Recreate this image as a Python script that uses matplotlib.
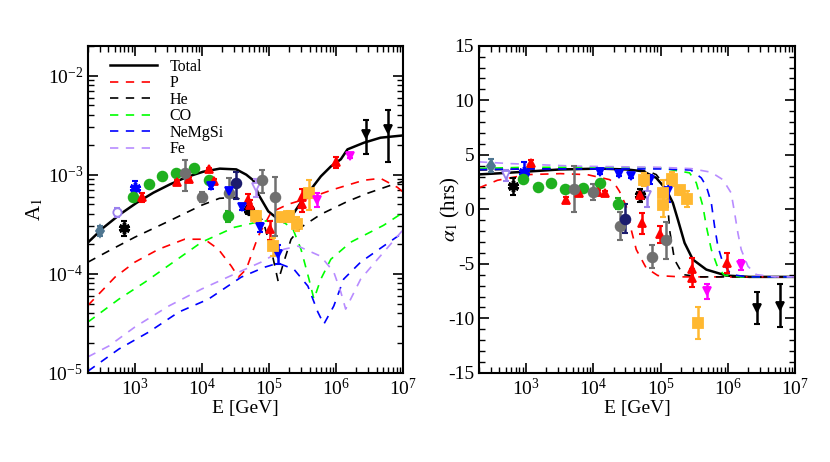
import matplotlib
matplotlib.use('Agg')
from matplotlib import pyplot as plt
from matplotlib.ticker import LogLocator, MultipleLocator, NullFormatter

plt.rcParams.update({
    'font.family': ['Liberation Serif', 'DejaVu Serif'],
    'mathtext.fontset': 'stix',
    'axes.unicode_minus': False,
    'font.size': 14,
})

# ---------------- model curves, amplitude A1 (left) ----------------
tot_E = [200, 340, 600, 1070, 1890, 3330, 5900, 1.04e4, 1.84e4, 3.24e4, 4.56e4,
         5.8e4, 6.9e4, 9.7e4, 1.36e5, 1.67e5, 2.12e5, 2.98e5, 4.19e5, 5.9e5,
         8.3e5, 1.17e6, 1.47e6, 2.58e6, 4.56e6, 1e7]
tot_A = [2.07e-4, 2.92e-4, 3.98e-4, 5.22e-4, 6.58e-4, 7.98e-4, 9.46e-4, 1.07e-3,
         1.15e-3, 1.13e-3, 1.0e-3, 8.77e-4, 6.34e-4, 4.27e-4, 3.55e-4, 3.31e-4,
         3.72e-4, 5.26e-4, 7.11e-4, 9.62e-4, 1.21e-3, 1.43e-3, 1.80e-3, 2.10e-3,
         2.36e-3, 2.49e-3]

p_E = [200, 506, 1000, 2270, 5510, 1.09e4, 1.75e4, 2.74e4, 3.48e4, 4.56e4, 6.87e4,
       1.07e5, 1.91e5, 4.19e5, 9.18e5, 2.55e6, 4.56e6, 8.15e6, 1e7]
p_A = [4.8e-5, 9.25e-5, 1.31e-4, 1.77e-4, 2.23e-4, 2.23e-4, 1.77e-4, 1.19e-4,
       9.25e-5, 1.11e-4, 2.39e-4, 4.17e-4, 5.02e-4, 5.9e-4, 7.11e-4, 8.77e-4,
       9.18e-4, 7.45e-4, 6.64e-4]

he_E = [200, 456, 1000, 3190, 9840, 1.82e4, 3.24e4, 5.41e4, 8.15e4, 1.07e5, 1.36e5,
        1.67e5, 2.12e5, 2.98e5, 5.89e5, 1.48e6, 2.93e6, 7.11e6, 1e7]
he_A = [1.31e-4, 1.77e-4, 2.34e-4, 3.39e-4, 4.91e-4, 5.77e-4, 5.9e-4, 4.91e-4,
        3.39e-4, 1.77e-4, 8.43e-5, 1.34e-4, 2.23e-4, 2.94e-4, 3.98e-4, 5.38e-4,
        6.49e-4, 7.98e-4, 8.57e-4]

co_E = [200, 579, 1410, 3920, 9840, 3.03e4, 7.6e4, 1.51e5, 2.27e5, 2.98e5, 3.92e5,
        4.65e5, 5.89e5, 8.3e5, 1.64e6, 5.06e6, 1e7]
co_A = [3.26e-5, 5.55e-5, 8.22e-5, 1.34e-4, 2.08e-4, 2.94e-4, 3.39e-4, 3.47e-4,
        2.81e-4, 1.77e-4, 8.83e-5, 5.55e-5, 8.83e-5, 1.40e-4, 2.08e-4, 3.08e-4,
        4.17e-4]

ne_E = [200, 579, 1610, 4490, 1.25e4, 3.85e4, 8.43e4, 1.36e5, 2.34e5, 3.78e5,
        5.32e5, 6.53e5, 9.18e5, 1.29e6, 2.31e6, 5.06e6, 1e7]
ne_A = [1.04e-5, 1.74e-5, 2.58e-5, 4.10e-5, 5.55e-5, 9.25e-5, 1.16e-4, 1.28e-4,
        1.11e-4, 7.5e-5, 4.1e-5, 3.1e-5, 4.72e-5, 8.83e-5, 1.31e-4, 1.90e-4,
        2.62e-4]

fe_E = [200, 412, 1000, 3190, 9840, 3.03e4, 7.6e4, 1.67e5, 2.69e5, 5.89e5, 9.18e5,
        1.17e6, 1.38e6, 1.64e6, 2.31e6, 4.12e6, 1e7]
fe_A = [1.45e-5, 1.87e-5, 2.90e-5, 4.72e-5, 7.0e-5, 9.91e-5, 1.31e-4, 1.77e-4,
        1.90e-4, 1.50e-4, 1.04e-4, 6.53e-5, 4.4e-5, 5.55e-5, 8.83e-5, 1.40e-4,
        2.8e-4]

# ---------------- model curves, phase alpha1 (right) ----------------
tot_E2 = [200, 400, 1000, 3160, 1.23e4, 3.16e4, 5.46e4, 8.63e4, 1.216e5, 1.524e5,
          1.807e5, 2.275e5, 3.02e5, 4.786e5, 9.48e5, 2.1e6, 1e7]
tot_ph = [3.2, 3.3, 3.45, 3.65, 3.73, 3.65, 3.49, 2.88, 1.81, 0.59, -0.94, -3.08,
          -4.61, -5.53, -6.08, -6.2, -6.2]

p_E2 = [200, 377, 1050, 3240, 8130, 1.75e4, 2.04e4, 2.45e4, 3.09e4, 3.66e4, 4.36e4,
        6.12e4, 9.12e4, 2e5, 1e7]
p_ph = [1.96, 2.66, 3.18, 3.27, 3.18, 2.72, 2.42, 1.65, 0.28, -1.86, -3.70, -5.38,
        -6.08, -6.2, -6.2]

he_E2 = [200, 1000, 1e4, 3e4, 5e4, 7.08e4, 8.63e4, 1.08e5, 1.285e5, 1.36e5, 1.61e5,
         2.15e5, 3.98e5, 1e7]
he_ph = [3.6, 3.7, 3.75, 3.7, 3.6, 3.4, 3.18, 2.42, 0.28, -1.86, -4.61, -5.99,
         -6.2, -6.2]

co_E2 = [200, 1000, 1e4, 1e5, 2.7e5, 3.4e5, 4.26e5, 4.79e5, 5.68e5, 7.11e5, 8.91e5,
         1.58e6, 1e7]
co_ph = [3.75, 3.85, 3.85, 3.8, 3.34, 2.42, 0.28, -1.56, -3.70, -5.38, -6.05,
         -6.2, -6.2]

ne_E2 = [200, 1000, 1e5, 2.82e5, 4.03e5, 4.79e5, 5.68e5, 6.35e5, 7.11e5, 8.43e5,
         1.12e6, 2e6, 1e7]
ne_ph = [3.64, 3.7, 3.7, 3.6, 2.88, 2.11, 0.59, -1.56, -3.39, -4.92, -5.99,
         -6.2, -6.2]

fe_E2 = [200, 589, 5900, 1e5, 2.86e5, 5.62e5, 8.43e5, 1.12e6, 1.26e6, 1.41e6,
         1.58e6, 1.99e6, 2.65e6, 5e6, 1e7]
fe_ph = [4.35, 4.19, 3.95, 3.85, 3.73, 3.4, 2.72, 1.5, -0.33, -2.17, -3.70, -5.23,
         -5.99, -6.2, -6.2]

# ---------------- measurements (grouped by marker) ----------------
# amplitude panel
slate_E, slate_A, slate_dA = [300], [2.7e-4], [0.3e-4]
lilac_E, lilac_A, lilac_dA = [540], [4.2e-4], [0.45e-4]
lilacv_E, lilacv_A, lilacv_dA = [6.4e4], [7.5e-4], [1.5e-4]
kstar_E, kstar_A, kstar_dA = [690, 5.0e4], [2.9e-4, 4.4e-4], [0.5e-4, 0.4e-4]
bstar_E, bstar_A, bstar_dA = [1000], [7.4e-4], [1.3e-4]
green_E = [930, 1610, 2510, 4050, 7480, 1.29e4, 2.47e4]
green_A = [6.0e-4, 8.0e-4, 9.8e-4, 1.05e-3, 1.16e-3, 8.8e-4, 3.8e-4]
green_dA = [0.3e-4, 0.3e-4, 0.3e-4, 0.4e-4, 0.4e-4, 0.5e-4, 0.5e-4]
red_E = [1270, 4170, 6300, 1.25e4, 1.53e4, 4.9e4, 5.1e4, 1.02e5, 3.1e5, 3.1e5, 1e6]
red_A = [5.9e-4, 8.4e-4, 9.0e-4, 1.13e-3, 8.6e-4, 5.5e-4, 4.9e-4, 2.8e-4, 5.9e-4,
         5.0e-4, 1.33e-3]
red_dA = [0.6e-4, 0.4e-4, 0.5e-4, 0.5e-4, 0.4e-4, 0.9e-4, 0.6e-4, 0.6e-4, 1.3e-4,
          0.8e-4, 1.6e-4]
gray_E = [5500, 1.0e4, 2.55e4, 7.95e4, 1.23e5]
gray_A = [1.05e-3, 6.0e-4, 6.6e-4, 8.9e-4, 5.9e-4]
gray_dA = [3.7e-4, 0.7e-4, 2.7e-4, 2.3e-4, 3.5e-4]
navy_E, navy_A, navy_dA = [3.16e4], [8.2e-4], [2.5e-4]
blue_E = [1.35e4, 2.5e4, 4.0e4, 7.4e4, 1.35e5]
blue_A = [7.6e-4, 6.8e-4, 4.7e-4, 2.95e-4, 1.6e-4]
blue_dA = [0.4e-4, 0.3e-4, 0.3e-4, 0.3e-4, 0.35e-4]
orange_E = [6.4e4, 1.15e5, 1.55e5, 2.0e5, 2.6e5, 3.9e5]
orange_A = [3.8e-4, 1.9e-4, 3.7e-4, 3.8e-4, 3.2e-4, 6.6e-4]
orange_dA = [0.5e-4, 0.4e-4, 0.4e-4, 0.5e-4, 0.5e-4, 2.2e-4]
mag_E, mag_A, mag_dA = [5.1e5, 1.58e6], [5.6e-4, 1.56e-3], [0.9e-4, 0.1e-3]
kv_E, kv_A, kv_dA = [2.8e6, 6.0e6], [2.6e-3, 2.9e-3], [1.0e-3, 1.55e-3]

# phase panel
slate_E2, slate_ph, slate_dph = [300], [4.0], [0.6]
lilac_E2, lilac_ph, lilac_dph = [510, 6.2e4], [3.1, 1.35], [0.5, 1.1]
kstar_E2, kstar_ph, kstar_dph = [650, 4.9e4], [2.1, 1.3], [0.8, 0.6]
bstar_E2, bstar_ph, bstar_dph = [920], [3.4], [0.9]
green_E2 = [890, 1520, 2350, 3800, 7100, 1.24e4, 2.35e4]
green_ph = [2.8, 2.05, 2.45, 1.87, 1.93, 2.45, 0.5]
green_dph = [0.2, 0.15, 0.15, 0.15, 0.15, 0.2, 0.5]
red_E2 = [1190, 3900, 6100, 1.16e4, 1.49e4, 4.9e4, 5.25e4, 9.8e4, 2.9e5, 2.9e5, 9.8e5]
red_ph = [4.2, 0.89, 1.5, 1.56, 1.5, 1.3, -1.3, -2.3, -5.47, -6.3, -4.92]
red_dph = [0.35, 0.2, 0.2, 0.2, 0.2, 0.3, 1.0, 0.8, 1.0, 0.8, 0.9]
gray_E2 = [5200, 9900, 2.5e4, 7.4e4, 1.2e5]
gray_ph = [1.87, 1.56, -1.56, -4.37, -2.85]
gray_dph = [2.1, 0.75, 1.3, 1.05, 1.7]
navy_E2, navy_ph, navy_dph = [2.95e4], [-0.86], [1.3]
blue_E2 = [1.27e4, 2.38e4, 3.7e4, 7.06e4, 1.3e5]
blue_ph = [3.4, 3.24, 3.03, 2.72, 1.71]
blue_dph = [0.2, 0.2, 0.2, 0.4, 1.0]
orange_E2 = [5.7e4, 1.07e5, 1.07e5, 1.48e5, 1.95e5, 2.47e5, 3.64e5]
orange_ph = [2.7, 1.5, 0.43, 2.78, 1.74, 0.95, -10.43]
orange_dph = [0.6, 1.2, 1.15, 0.65, 0.4, 0.7, 1.5]
mag_E2, mag_ph, mag_dph = [4.9e5, 1.56e6], [-7.52, -5.08], [0.7, 0.45]
kv_E2, kv_ph, kv_dph = [2.7e6, 6.0e6], [-9.05, -8.84], [1.5, 2.0]

LAV = '#b88cff'
ASTER = (6, 2, 0)
curve_style = [('Total', 'k', '-'), ('P', '#ff0000', '--'), ('He', 'k', '--'),
               ('CO', '#00ff00', '--'), ('NeMgSi', '#0000ff', '--'), ('Fe', LAV, '--')]


def points(ax, E, v, dv, color, marker, open_=False, ms=6, mew=1.3):
    ax.errorbar(E, v, yerr=dv, fmt='none', ecolor=color,
                elinewidth=1.8, capsize=2.5, capthick=1.5, zorder=5)
    ax.plot(E, v, ls='none', marker=marker, color=color, ms=ms,
            mfc='white' if open_ else color, mec=color, mew=mew, zorder=6)


def style_axes(ax):
    ax.set_xscale('log')
    ax.set_xlim(200, 1e7)
    ax.tick_params(which='both', direction='in', top=True, right=True)
    ax.tick_params(which='major', length=7, width=1.2, labelsize=14)
    ax.tick_params(which='minor', length=4, width=1)
    ax.xaxis.set_major_locator(LogLocator(base=10, numticks=10))
    ax.xaxis.set_minor_locator(LogLocator(base=10, subs=range(2, 10), numticks=20))
    ax.xaxis.set_minor_formatter(NullFormatter())
    for s in ax.spines.values():
        s.set_linewidth(1.5)
    ax.set_xlabel('E [GeV]', fontsize=14, labelpad=1)


def draw_points(ax, sets):
    for E, v, dv, c, m, kw in sets:
        points(ax, E, v, dv, c, m, **kw)


fig = plt.figure(figsize=(8.3, 4.62), dpi=100)
ax1 = fig.add_axes([0.106, 0.193, 0.380, 0.708])
ax2 = fig.add_axes([0.577, 0.193, 0.381, 0.708])

# left panel
curvesA = [(tot_E, tot_A), (p_E, p_A), (he_E, he_A), (co_E, co_A), (ne_E, ne_A), (fe_E, fe_A)]
for (E, A), (lab, c, ls) in zip(curvesA, curve_style):
    ax1.plot(E, A, color=c, ls=ls, lw=1.8 if ls == '-' else 1.2,
             dashes=(5, 4.5) if ls == '--' else (None, None), label=lab)

draw_points(ax1, [
    (slate_E, slate_A, slate_dA, '#4f7691', 'd', {}),
    (lilac_E, lilac_A, lilac_dA, '#9a80ee', 'o', {'open_': True}),
    (lilacv_E, lilacv_A, lilacv_dA, '#b48cf5', 'v', {'open_': True}),
    (kstar_E, kstar_A, kstar_dA, 'k', ASTER, {'ms': 8, 'mew': 2.5}),
    (bstar_E, bstar_A, bstar_dA, '#0000ff', ASTER, {'ms': 8, 'mew': 2.5}),
    (green_E, green_A, green_dA, '#1fb01f', 'o', {'ms': 7}),
    (red_E, red_A, red_dA, '#ff0000', '^', {}),
    (gray_E, gray_A, gray_dA, '#707070', 'o', {'ms': 7}),
    (navy_E, navy_A, navy_dA, '#1c1c6e', 'o', {'ms': 7}),
    (blue_E, blue_A, blue_dA, '#0000ff', 'v', {}),
    (orange_E, orange_A, orange_dA, '#ffb830', 's', {'ms': 7}),
    (mag_E, mag_A, mag_dA, '#ff00ff', 'v', {}),
    (kv_E, kv_A, kv_dA, 'k', 'v', {}),
])

ax1.set_yscale('log')
ax1.set_ylim(1e-5, 2e-2)
style_axes(ax1)
ax1.yaxis.set_minor_locator(LogLocator(base=10, subs=range(2, 10), numticks=20))
ax1.yaxis.set_minor_formatter(NullFormatter())
ax1.set_ylabel('A$_1$', fontsize=15)
ax1.yaxis.set_label_coords(-0.135, 0.5)
ax1.legend(loc='upper left', bbox_to_anchor=(0.071, 0.96), frameon=False,
           fontsize=11.5, handlelength=2.9, handletextpad=0.8, labelspacing=0.03,
           borderaxespad=0, borderpad=0)

# right panel
curvesP = [(tot_E2, tot_ph), (p_E2, p_ph), (he_E2, he_ph), (co_E2, co_ph),
           (ne_E2, ne_ph), (fe_E2, fe_ph)]
for (E, ph), (lab, c, ls) in zip(curvesP, curve_style):
    ax2.plot(E, ph, color=c, ls=ls, lw=1.8 if ls == '-' else 1.2,
             dashes=(5, 4.5) if ls == '--' else (None, None))

draw_points(ax2, [
    (slate_E2, slate_ph, slate_dph, '#4f7691', 'd', {}),
    (lilac_E2, lilac_ph, lilac_dph, '#9a80ee', 'v', {'open_': True}),
    (kstar_E2, kstar_ph, kstar_dph, 'k', ASTER, {'ms': 8, 'mew': 2.5}),
    (bstar_E2, bstar_ph, bstar_dph, '#0000ff', ASTER, {'ms': 8, 'mew': 2.5}),
    (green_E2, green_ph, green_dph, '#1fb01f', 'o', {'ms': 7}),
    (red_E2, red_ph, red_dph, '#ff0000', '^', {}),
    (gray_E2, gray_ph, gray_dph, '#707070', 'o', {'ms': 7}),
    (navy_E2, navy_ph, navy_dph, '#1c1c6e', 'o', {'ms': 7}),
    (blue_E2, blue_ph, blue_dph, '#0000ff', 'v', {}),
    (orange_E2, orange_ph, orange_dph, '#ffb830', 's', {'ms': 7}),
    (mag_E2, mag_ph, mag_dph, '#ff00ff', 'v', {}),
    (kv_E2, kv_ph, kv_dph, 'k', 'v', {}),
])

ax2.set_ylim(-15, 15)
style_axes(ax2)
ax2.yaxis.set_major_locator(MultipleLocator(5))
ax2.yaxis.set_minor_locator(MultipleLocator(1))
ax2.set_ylabel(r'$\alpha_1$ (hrs)', fontsize=15)
ax2.yaxis.set_label_coords(-0.055, 0.5)

fig.savefig('out.png', dpi=100)
